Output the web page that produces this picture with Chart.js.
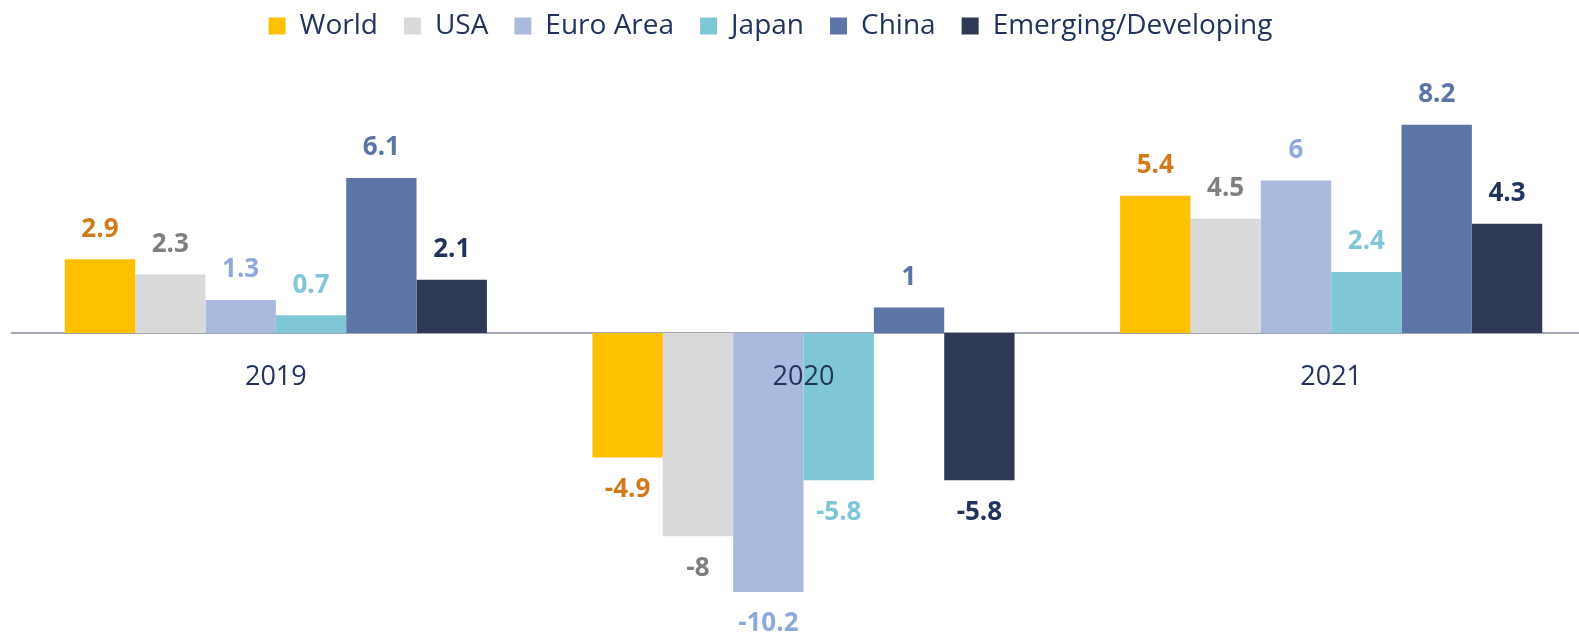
<!DOCTYPE html>
<html>
<head>
<meta charset="utf-8">
<script src="https://cdn.jsdelivr.net/npm/chart.js@4/dist/chart.umd.min.js"></script>
<style>
	html, body { margin: 0; padding: 0; background: #fff; }
	#wrap { width: 1579px; height: 637px; }
</style>
</head>
<body>
<div id="wrap"><canvas id="growthChart" width="1579" height="637"></canvas></div>
<script>
// Chart values
const years = ['2019', '2020', '2021'];
const seriesNames = ['World', 'USA', 'Euro Area', 'Japan', 'China', 'Emerging/Developing'];
const world = [2.9, -4.9, 5.4];
const usa = [2.3, -8, 4.5];
const euroArea = [1.3, -10.2, 6];
const japan = [0.7, -5.8, 2.4];
const china = [6.1, 1, 8.2];
const emerging = [2.1, -5.8, 4.3];

const barColors = ['#FFC000', '#D9D9D9', '#AABADE', '#7FC6D6', '#5D74A6', '#2E3A55'];
const labelColors = ['#D27A1B', '#7F7F7F', '#8EA9DB', '#7FC6D6', '#5B73A6', '#22345E'];
const textColor = '#22345E';

const seriesValues = [world, usa, euroArea, japan, china, emerging];

// draws the value above / below every bar
const valueLabels = {
	id: 'valueLabels',
	afterLayout(chart) {
		// plot area runs a bit past the right edge, like the original
		const x = chart.scales.x;
		x.right += 16;
		x.width += 16;
		x.configure();
		// nudge the legend
		chart.legend.left -= 25;
		chart.legend.right -= 25;
		chart.legend.top += 3;
		chart.legend.bottom += 3;
	},
	afterDatasetsDraw(chart) {
		const ctx = chart.ctx;
		ctx.save();
		ctx.font = 'bold 26px "Open Sans"';
		ctx.textAlign = 'center';
		ctx.textBaseline = 'middle';
		chart.data.datasets.forEach((ds, i) => {
			const meta = chart.getDatasetMeta(i);
			ctx.fillStyle = labelColors[i];
			meta.data.forEach((bar, j) => {
				const v = ds.data[j];
				const y = v >= 0 ? bar.y - 30 : bar.y + 32;
				ctx.fillText(String(v), bar.x, y);
			});
		});
		ctx.restore();
	}
};

const ctx = document.getElementById('growthChart');
new Chart(ctx, {
	type: 'bar',
	data: {
		labels: years,
		datasets: seriesNames.map((name, i) => ({
			label: name,
			data: seriesValues[i],
			backgroundColor: barColors[i],
			borderWidth: 0,
			categoryPercentage: 0.8,
			barPercentage: 1,
			clip: false
		}))
	},
	options: {
		responsive: false,
		animation: false,
		layout: {
			padding: { top: -17, left: 12, right: 0, bottom: 0 }
		},
		plugins: {
			legend: {
				position: 'top',
				labels: {
					boxWidth: 17,
					boxHeight: 17,
					padding: 26,
					color: textColor,
					font: { family: '"Open Sans"', size: 28 }
				}
			},
			tooltip: { enabled: false }
		},
		scales: {
			x: {
				position: { y: 0 },
				grid: { display: false, drawTicks: false },
				border: { display: true, color: '#A5A8B4', width: 2 },
				ticks: {
					z: 1,
					padding: 28,
					color: textColor,
					font: { family: '"Open Sans"', size: 27 }
				},
				afterFit: function(scale) {
					scale.height = 0;
				}
			},
			y: {
				display: false,
				min: -11.97,
				max: 11.26
			}
		}
	},
	plugins: [valueLabels]
});
</script>
</body>
</html>
